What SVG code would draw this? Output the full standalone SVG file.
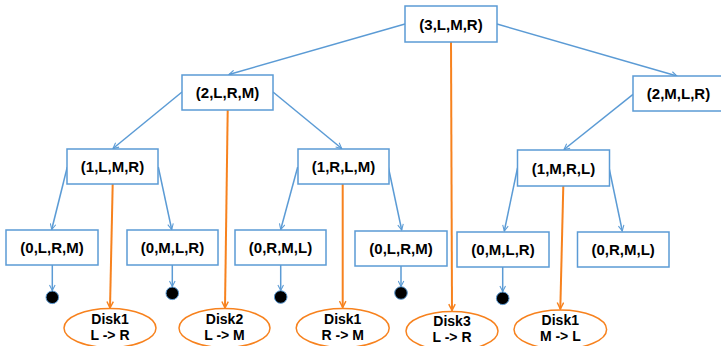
<svg xmlns="http://www.w3.org/2000/svg" width="721" height="346" viewBox="0 0 721 346">
<style>
.box{fill:#fff;stroke:#5B9BD5;stroke-width:1.5}
.lbl{font-family:"Liberation Sans",Arial,sans-serif;font-weight:bold;font-size:15px;fill:#000;text-anchor:middle}
.el{fill:#fff;stroke:#F7821E;stroke-width:1.5}
.etx{font-family:"Liberation Sans",Arial,sans-serif;font-weight:bold;font-size:14px;fill:#000;text-anchor:middle}
.b{stroke:#5B9BD5;stroke-width:1.5;fill:none;marker-end:url(#ab)}
.o{stroke:#F7821E;stroke-width:2;fill:none;marker-end:url(#ao)}
.dot{fill:#000;stroke:#5B9BD5;stroke-width:1}
</style>
<defs>
<marker id="ab" viewBox="0 0 10 10" refX="9" refY="5" markerWidth="7" markerHeight="7" markerUnits="userSpaceOnUse" orient="auto">
<path d="M1,1 L9,5 L1,9" fill="none" stroke="#5B9BD5" stroke-width="1.5"/>
</marker>
<marker id="ao" viewBox="0 0 10 10" refX="9" refY="5" markerWidth="8" markerHeight="8" markerUnits="userSpaceOnUse" orient="auto">
<path d="M1,1 L9,5 L1,9" fill="none" stroke="#F7821E" stroke-width="1.8"/>
</marker>
</defs>
<g id="connectors">
<line class="b" x1="405" y1="24" x2="229" y2="74.5"/>
<line class="b" x1="497" y1="24" x2="677" y2="76"/>
<line class="b" x1="182" y1="92" x2="113" y2="148.5"/>
<line class="b" x1="273" y1="92" x2="341.7" y2="148.5"/>
<line class="b" x1="633" y1="94.3" x2="564" y2="149.5"/>
<line class="b" x1="67.3" y1="167" x2="51.7" y2="229.5"/>
<line class="b" x1="158.3" y1="167" x2="171.7" y2="229.5"/>
<line class="b" x1="297.7" y1="167" x2="280.7" y2="229.5"/>
<line class="b" x1="388.3" y1="167" x2="401.7" y2="230"/>
<line class="b" x1="517.5" y1="168" x2="504.3" y2="231"/>
<line class="b" x1="609.3" y1="169" x2="622.3" y2="231"/>
<line class="b" x1="52.3" y1="265" x2="52.3" y2="290.5"/>
<line class="b" x1="172.3" y1="265" x2="172.3" y2="286.5"/>
<line class="b" x1="280.7" y1="265" x2="280.7" y2="290.5"/>
<line class="b" x1="401" y1="266" x2="401" y2="286.5"/>
<line class="b" x1="502.7" y1="267" x2="502.7" y2="291.5"/>
<line class="o" x1="451" y1="42" x2="452" y2="310.5"/>
<line class="o" x1="227.7" y1="110" x2="225" y2="308"/>
<line class="o" x1="112.7" y1="184" x2="110" y2="308"/>
<line class="o" x1="342.7" y1="184" x2="342.7" y2="307.5"/>
<line class="o" x1="563.3" y1="186" x2="560.3" y2="309"/>
<circle class="dot" cx="52.3" cy="297.3" r="6.3"/>
<circle class="dot" cx="172.3" cy="293.3" r="6.3"/>
<circle class="dot" cx="280.7" cy="297" r="6.3"/>
<circle class="dot" cx="401" cy="293" r="6.3"/>
<circle class="dot" cx="502.7" cy="298.3" r="6.3"/>
</g>
<g id="n3LMR"><rect class="box" x="405" y="6" width="92" height="36"/><text class="lbl" x="451" y="29.5">(3,L,M,R)</text></g>
<g id="n2LRM"><rect class="box" x="182" y="75" width="91" height="35"/><text class="lbl" x="227.5" y="98">(2,L,R,M)</text></g>
<g id="n2MLR"><rect class="box" x="633" y="76" width="91" height="35"/><text class="lbl" x="678.5" y="99">(2,M,L,R)</text></g>
<g id="n1LMR"><rect class="box" x="67" y="149" width="91" height="35"/><text class="lbl" x="112.5" y="172">(1,L,M,R)</text></g>
<g id="n1RLM"><rect class="box" x="298" y="149" width="91" height="35"/><text class="lbl" x="343.5" y="172">(1,R,L,M)</text></g>
<g id="n1MRL"><rect class="box" x="517.5" y="150" width="92" height="36"/><text class="lbl" x="563.5" y="173.5">(1,M,R,L)</text></g>
<g id="n0LRM_a"><rect class="box" x="6" y="230" width="92" height="35"/><text class="lbl" x="52" y="253">(0,L,R,M)</text></g>
<g id="n0MLR_a"><rect class="box" x="127" y="230" width="91" height="35"/><text class="lbl" x="172.5" y="253">(0,M,L,R)</text></g>
<g id="n0RML_a"><rect class="box" x="235" y="230" width="91" height="35"/><text class="lbl" x="280.5" y="253">(0,R,M,L)</text></g>
<g id="n0LRM_b"><rect class="box" x="355" y="231" width="92" height="35"/><text class="lbl" x="401" y="254">(0,L,R,M)</text></g>
<g id="n0MLR_b"><rect class="box" x="457" y="232" width="92" height="35"/><text class="lbl" x="503" y="255">(0,M,L,R)</text></g>
<g id="n0RML_b"><rect class="box" x="577.5" y="232" width="91.5" height="35"/><text class="lbl" x="623.2" y="255">(0,R,M,L)</text></g>
<g id="disk1_LR"><ellipse class="el" cx="110" cy="328" rx="46" ry="19.5"/><text class="etx" x="110" y="324">Disk1</text><text class="etx" x="110" y="340">L -&gt; R</text></g>
<g id="disk2_LM"><ellipse class="el" cx="224.5" cy="328" rx="45.5" ry="19.5"/><text class="etx" x="224.5" y="324">Disk2</text><text class="etx" x="224.5" y="340">L -&gt; M</text></g>
<g id="disk1_RM"><ellipse class="el" cx="342.7" cy="328" rx="46.5" ry="19.5"/><text class="etx" x="342.7" y="324">Disk1</text><text class="etx" x="342.7" y="340">R -&gt; M</text></g>
<g id="disk3_LR"><ellipse class="el" cx="452" cy="331" rx="46" ry="19.5"/><text class="etx" x="452" y="326">Disk3</text><text class="etx" x="452" y="342">L -&gt; R</text></g>
<g id="disk1_ML"><ellipse class="el" cx="560.3" cy="329.5" rx="46.3" ry="19.5"/><text class="etx" x="560.3" y="325">Disk1</text><text class="etx" x="560.3" y="341">M -&gt; L</text></g>
</svg>
